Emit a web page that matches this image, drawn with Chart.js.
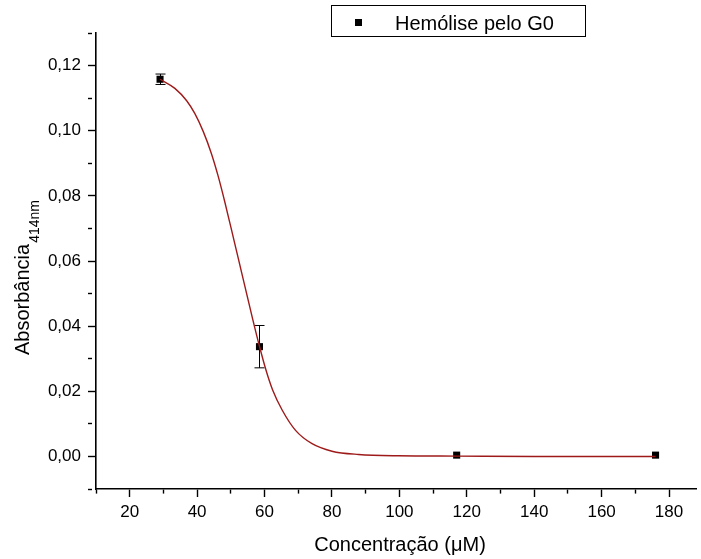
<!DOCTYPE html>
<html>
<head>
<meta charset="utf-8">
<script src="https://cdn.jsdelivr.net/npm/chart.js@4"></script>
<style>
  html, body { margin: 0; padding: 0; background: #fff; }
  #wrap { width: 701px; height: 559px; }
</style>
</head>
<body>
<div id="wrap"><canvas id="hemoChart" width="701" height="559"></canvas></div>
<script>
// pontos medidos (concentração em µM, absorbância a 414 nm, desvio)
const concentracao = [29, 58.5, 117, 176];
const absorbancia = [0.1158, 0.0337, 0.0004, 0.0004];
const desvio = [0.0016, 0.0065, 0.0002, 0.0002];

// curva ajustada (sigmoide) lida ponto a ponto
const ajusteX = [29, 33.4, 36.9, 39.3, 41.8, 44.2, 46.2, 48.2, 50.1, 52.3, 54.0, 56.5, 58.4, 60.4, 62.4, 65.3, 69.2, 74.1, 80.0, 87.9, 99.6, 117, 140, 160, 176];
const ajusteY = [0.1158, 0.1130, 0.1092, 0.1053, 0.0998, 0.0931, 0.0862, 0.0782, 0.0700, 0.0604, 0.0530, 0.0421, 0.0342, 0.0266, 0.0204, 0.0141, 0.0080, 0.0039, 0.0016, 0.0006, 0.0002, 0.0001, 0.0000, 0.0000, 0.0000];

const legenda = 'Hemólise pelo G0';
const tituloX = 'Concentração (μM)';
const tituloY = 'Absorbância';
const subY = '414nm';

const FONTE = "'Liberation Sans', Arial, sans-serif";

// barras de erro, títulos dos eixos e caixa da legenda
const extras = {
  id: 'extras',
  beforeDatasetsDraw(chart) {
    const ctx = chart.ctx;
    const xs = chart.scales.x, ys = chart.scales.y;
    ctx.save();
    ctx.strokeStyle = '#000';
    ctx.lineWidth = 1;
    concentracao.forEach((c, i) => {
      const px = Math.round(xs.getPixelForValue(c)) + 0.5;
      const top = ys.getPixelForValue(absorbancia[i] + desvio[i]);
      const bot = ys.getPixelForValue(absorbancia[i] - desvio[i]);
      if (bot - top < 2) return;
      ctx.beginPath();
      ctx.moveTo(px, top); ctx.lineTo(px, bot);
      ctx.moveTo(px - 5, top); ctx.lineTo(px + 5, top);
      ctx.moveTo(px - 5, bot); ctx.lineTo(px + 5, bot);
      ctx.stroke();
    });
    ctx.restore();
  },
  afterDraw(chart) {
    const ctx = chart.ctx;
    const area = chart.chartArea;
    ctx.save();
    ctx.fillStyle = '#000';

    // título do eixo x
    ctx.font = '20px ' + FONTE;
    ctx.textAlign = 'center';
    ctx.textBaseline = 'alphabetic';
    ctx.fillText(tituloX, (area.left + area.right) / 2 + 4, 551);

    // título do eixo y com subscrito
    ctx.translate(28.5, 355);
    ctx.rotate(-Math.PI / 2);
    ctx.textAlign = 'left';
    ctx.font = '20px ' + FONTE;
    ctx.fillText(tituloY, 0, 0);
    const w = ctx.measureText(tituloY).width;
    ctx.font = '14px ' + FONTE;
    ctx.fillText(subY, w + 1, 10);
    ctx.setTransform(1, 0, 0, 1, 0, 0);

    // legenda
    ctx.strokeStyle = '#000';
    ctx.lineWidth = 1;
    ctx.strokeRect(331.5, 5.5, 254, 31);
    ctx.fillRect(355, 19, 7, 7);
    ctx.font = '20px ' + FONTE;
    ctx.textAlign = 'left';
    ctx.fillText(legenda, 395, 29.5);
    ctx.restore();
  }
};

const ctx = document.getElementById('hemoChart').getContext('2d');
new Chart(ctx, {
  type: 'scatter',
  data: {
    datasets: [
      {
        // curva primeiro para ficar por cima dos marcadores
        type: 'line',
        data: ajusteX.map((x, i) => ({ x: x, y: ajusteY[i] })),
        borderColor: '#9e1a1a',
        borderWidth: 1.4,
        pointRadius: 0,
        fill: false,
        cubicInterpolationMode: 'monotone'
      },
      {
        data: concentracao.map((x, i) => ({ x: x, y: absorbancia[i] })),
        pointStyle: 'rect',
        pointRadius: 5,
        backgroundColor: '#000',
        borderColor: '#000',
        borderWidth: 0,
        showLine: false
      }
    ]
  },
  options: {
    responsive: false,
    animation: false,
    layout: { padding: { top: 33, right: 0, left: 0, bottom: 0 } },
    plugins: {
      legend: { display: false },
      tooltip: { enabled: false }
    },
    scales: {
      x: {
        type: 'linear',
        min: 10,
        max: 188,
        afterFit: s => { s.height = 70; },
        border: { color: '#000', width: 1.6 },
        grid: {
          drawOnChartArea: false,
          tickLength: 8,
          tickColor: '#000',
          tickWidth: 1.4,
          tickBorderDash: c => (Math.round(c.tick.value) % 20 !== 0 ? [4, 20] : [])
        },
        ticks: {
          stepSize: 10,
          includeBounds: false,
          maxRotation: 0,
          autoSkip: false,
          padding: 5,
          color: '#000',
          font: { family: FONTE, size: 17 },
          callback: v => (Math.round(v) % 20 === 0 ? String(v) : '')
        }
      },
      y: {
        type: 'linear',
        min: -0.01,
        max: 0.13,
        afterFit: s => { s.width = 96; },
        border: { color: '#000', width: 1.6 },
        grid: {
          drawOnChartArea: false,
          tickLength: 8,
          tickColor: '#000',
          tickWidth: 1.4,
          tickBorderDash: c => (Math.round(c.tick.value * 100) % 2 !== 0 ? [4, 20] : [])
        },
        ticks: {
          stepSize: 0.01,
          includeBounds: false,
          autoSkip: false,
          padding: 7,
          color: '#000',
          font: { family: FONTE, size: 17 },
          callback: v => {
            const n = Math.round(v * 100);
            return n % 2 === 0 && n >= 0 && n <= 12 ? (n / 100).toFixed(2).replace('.', ',') : '';
          }
        }
      }
    }
  },
  plugins: [extras]
});
</script>
</body>
</html>
